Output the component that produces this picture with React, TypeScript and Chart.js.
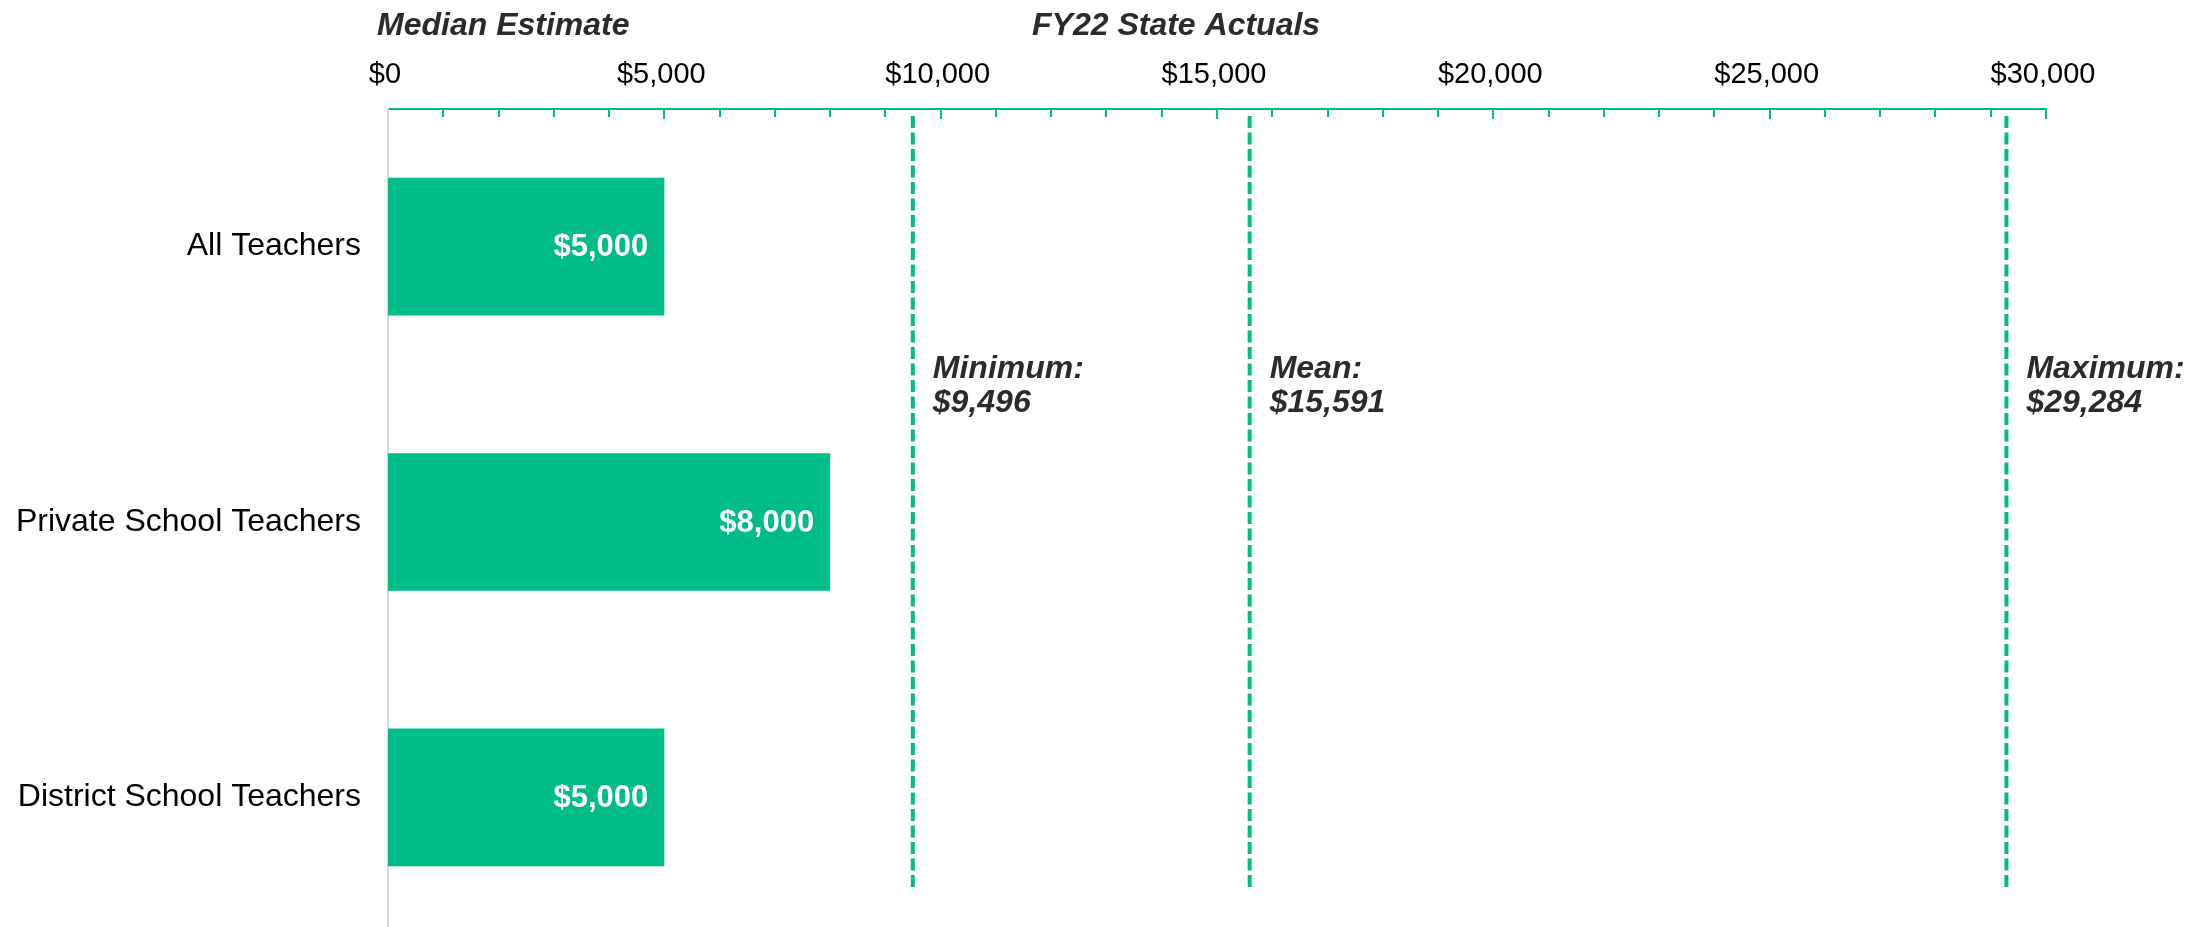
import React, { useEffect, useRef } from "react";
import { Chart, registerables } from "chart.js";

Chart.register(...registerables);

const categories = ["All Teachers", "Private School Teachers", "District School Teachers"];
const medianValues = [5000, 8000, 5000];
const refLabels = ["Minimum:", "Mean:", "Maximum:"];
const refValues = [9496, 15591, 29284];
const xTickValues = [0, 5000, 10000, 15000, 20000, 25000, 30000];
const titleLeft = "Median Estimate";
const titleRight = "FY22 State Actuals";

const GREEN = "#00BC86";
const GREY_AXIS = "#d9d9d9";
const TEXT_DARK = "#2b2b2b";
const FONT = "'Liberation Sans', Arial, Helvetica, sans-serif";
const fmt = (v: number) => "$" + Number(v).toLocaleString("en-US");

const overlayPlugin = {
  id: "overlay",
  afterDatasetsDraw(chart: any) {
    const { ctx } = chart;
    const meta = chart.getDatasetMeta(0);
    ctx.save();
    ctx.font = `bold 31px ${FONT}`;
    ctx.fillStyle = "#ffffff";
    ctx.textAlign = "right";
    ctx.textBaseline = "middle";
    meta.data.forEach((bar: any, i: number) => {
      ctx.fillText(fmt(medianValues[i]), bar.x - 16, bar.y + 1);
    });
    ctx.restore();
  },
  afterDraw(chart: any) {
    const { ctx, chartArea, scales } = chart;
    const x = scales.x;
    ctx.save();
    // inside tick marks on the top axis
    ctx.strokeStyle = GREEN;
    ctx.lineWidth = 2;
    ctx.setLineDash([]);
    for (let v = 1000; v <= x.max; v += 1000) {
      const px = Math.round(x.getPixelForValue(v));
      const len = v % 5000 === 0 ? 10 : 8;
      ctx.beginPath();
      ctx.moveTo(px, chartArea.top);
      ctx.lineTo(px, chartArea.top + len);
      ctx.stroke();
    }
    // dashed reference lines
    ctx.lineWidth = 4;
    ctx.setLineDash([12, 4.5]);
    refValues.forEach((v) => {
      const px = x.getPixelForValue(v);
      ctx.beginPath();
      ctx.moveTo(px, chartArea.top + 7);
      ctx.lineTo(px, chartArea.bottom - 47);
      ctx.stroke();
    });
    ctx.setLineDash([]);
    // reference labels
    ctx.fillStyle = TEXT_DARK;
    ctx.font = `italic bold 32px ${FONT}`;
    ctx.textAlign = "left";
    ctx.textBaseline = "alphabetic";
    refValues.forEach((v, i) => {
      const px = x.getPixelForValue(v);
      ctx.fillText(refLabels[i], px + 20, chartArea.top + 269);
      ctx.fillText(fmt(v), px + 20, chartArea.top + 303);
    });
    // titles
    ctx.fillText(titleLeft, chartArea.left - 11, 35);
    ctx.fillText(titleRight, chartArea.left + 644, 35);
    ctx.restore();
  },
};

export default function App() {
  const ref = useRef<HTMLCanvasElement | null>(null);
  useEffect(() => {
    if (!ref.current) return;
    const chart = new Chart(ref.current, {
      type: "bar",
      data: {
        labels: categories,
        datasets: [
          {
            data: medianValues,
            backgroundColor: GREEN,
            borderWidth: 0,
            barPercentage: 1,
            categoryPercentage: 0.5,
          },
        ],
      },
      options: {
        indexAxis: "y",
        responsive: false,
        animation: false,
        devicePixelRatio: 1,
        layout: { padding: { left: 0, right: 158, top: 0, bottom: 0 } },
        plugins: {
          legend: { display: false },
          tooltip: { enabled: false },
          title: { display: false },
        },
        scales: {
          x: {
            position: "top",
            min: 0,
            max: 30000,
            afterBuildTicks: (s: any) => {
              s.ticks = xTickValues.map((v) => ({ value: v }));
            },
            afterFit: (s: any) => {
              s.height = 109;
            },
            ticks: {
              callback: (v: any) => fmt(v),
              font: { family: FONT, size: 29 },
              color: "#000000",
              padding: 17,
              labelOffset: -3,
              maxRotation: 0,
              autoSkip: false,
            },
            grid: { display: false, drawTicks: false },
            border: { display: true, color: GREEN, width: 2 },
          },
          y: {
            afterFit: (s: any) => {
              s.width = 388;
              s.paddingTop = 0;
              s.paddingBottom = 0;
            },
            ticks: {
              font: { family: FONT, size: 32 },
              color: "#000000",
              padding: 27,
            },
            grid: { display: false, drawTicks: false },
            border: { display: true, color: GREY_AXIS, width: 2 },
          },
        },
      } as any,
      plugins: [overlayPlugin],
    });
    return () => chart.destroy();
  }, []);
  return (
    <div
      style={{
        position: "fixed",
        top: 0,
        left: 0,
        width: 2204,
        height: 927,
        overflow: "hidden",
        background: "#ffffff",
      }}
    >
      <canvas ref={ref} width={2204} height={935} style={{ display: "block" }} />
    </div>
  );
}
